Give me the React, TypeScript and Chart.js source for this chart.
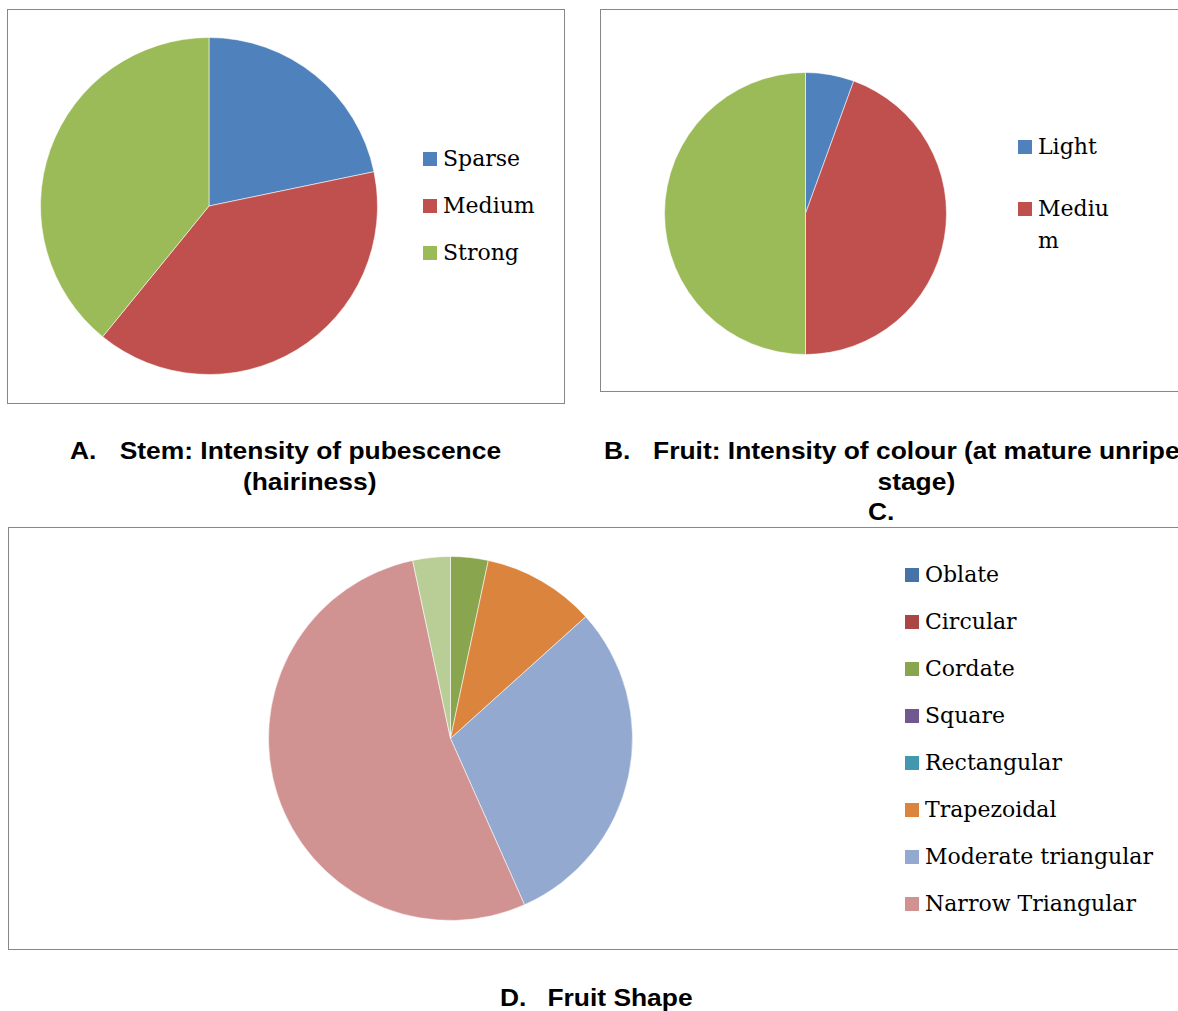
import React, { useEffect, useRef } from "react";
import { Chart, registerables } from "chart.js";

Chart.register(...registerables);

// ---- Data ----
const stemLabels = ["Sparse", "Medium", "Strong"];
const stemValues = [5, 9, 9];
const stemColors = ["#4F81BD", "#C0504D", "#9BBB59"];

const colourLabels = ["Light", "Medium", "Dark"];
const colourValues = [1, 8, 9];
const colourColors = ["#4F81BD", "#C0504D", "#9BBB59"];
const colourLegendShown = 2;

const shapeLabels = [
  "Oblate",
  "Circular",
  "Cordate",
  "Square",
  "Rectangular",
  "Trapezoidal",
  "Moderate triangular",
  "Narrow Triangular",
  "Horn shaped",
];
const shapeValues = [0, 0, 1, 0, 0, 3, 9, 16, 1];
const shapeColors = [
  "#4572A7",
  "#AA4643",
  "#89A54E",
  "#71588F",
  "#4198AF",
  "#DB843D",
  "#93A9CF",
  "#D19392",
  "#B9CD96",
];
const shapeLegendShown = 8;

const titleA = ["Stem: Intensity of pubescence", "(hairiness)"];
const titleB = ["Fruit: Intensity of colour (at mature unripe", "stage)"];
const titleD = ["Fruit Shape"];

const BORDER = "#878787";
const SERIF = "'DejaVu Serif', serif";
const SANS = "'Liberation Sans', Arial, sans-serif";

type PieProps = {
  labels: string[];
  values: number[];
  colors: string[];
  left: number;
  top: number;
  size: number;
};

function PieCanvas({ labels, values, colors, left, top, size }: PieProps) {
  const ref = useRef<HTMLCanvasElement>(null);
  useEffect(() => {
    const chart = new Chart(ref.current as HTMLCanvasElement, {
      type: "pie",
      data: {
        labels,
        datasets: [
          {
            data: values,
            backgroundColor: colors,
            borderColor: "rgba(255,255,255,0.55)",
            borderWidth: 1,
          },
        ],
      },
      options: {
        responsive: false,
        animation: false,
        layout: { padding: 4 },
        plugins: { legend: { display: false }, tooltip: { enabled: false } },
      },
    });
    return () => chart.destroy();
  }, []);
  return (
    <canvas
      ref={ref}
      width={size}
      height={size}
      style={{ position: "absolute", left, top, width: size, height: size }}
    />
  );
}

type LegendProps = {
  labels: string[];
  colors: string[];
  count: number;
  left: number;
  firstY: number;
  step: number;
  labelWidth: number;
};

function Legend({ labels, colors, count, left, firstY, step, labelWidth }: LegendProps) {
  return (
    <>
      {labels.slice(0, count).map((lab, i) => (
        <div
          key={lab}
          style={{
            position: "absolute",
            left,
            top: firstY + i * step - 16,
            height: 32,
          }}
        >
          <div
            style={{
              position: "absolute",
              left: 0,
              top: 9,
              width: 14,
              height: 14,
              background: colors[i],
            }}
          />
          <div
            style={{
              position: "absolute",
              left: 20,
              top: 0,
              width: labelWidth,
              fontFamily: SERIF,
              fontSize: 22,
              lineHeight: "32px",
              color: "#000",
              wordBreak: "break-all",
              whiteSpace: "normal",
            }}
          >
            {lab}
          </div>
        </div>
      ))}
    </>
  );
}

function Box({ left, top, right, bottom }: { left: number; top: number; right: number; bottom: number }) {
  return (
    <div
      style={{
        position: "absolute",
        left,
        top,
        width: right - left + 1,
        height: bottom - top + 1,
        border: `1px solid ${BORDER}`,
        boxSizing: "border-box",
      }}
    />
  );
}

function TitleLine({ text, cx, cy }: { text: string; cx: number; cy: number }) {
  return (
    <div
      style={{
        position: "absolute",
        left: cx - 400,
        width: 800,
        top: cy - 16,
        height: 32,
        lineHeight: "32px",
        textAlign: "center",
        fontFamily: SANS,
        fontWeight: "bold",
        fontSize: 24,
        color: "#000",
        whiteSpace: "nowrap",
      }}
    >
      <span style={{ display: "inline-block", transform: "scaleX(1.1)", transformOrigin: "center" }}>{text}</span>
    </div>
  );
}

function Num({ text, left, cy }: { text: string; left: number; cy: number }) {
  return (
    <div
      style={{
        position: "absolute",
        left,
        top: cy - 16,
        height: 32,
        lineHeight: "32px",
        fontFamily: SANS,
        fontWeight: "bold",
        fontSize: 24,
        color: "#000",
        whiteSpace: "nowrap",
        transform: "scaleX(1.1)",
        transformOrigin: "left",
      }}
    >
      {text}
    </div>
  );
}

export default function App() {
  return (
    <div
      style={{
        position: "absolute",
        left: 0,
        top: 0,
        width: 1178,
        height: 1011,
        overflow: "hidden",
        background: "#fff",
      }}
    >
      {/* A */}
      <Box left={7} top={9} right={564} bottom={403} />
      <PieCanvas labels={stemLabels} values={stemValues} colors={stemColors} left={36} top={33} size={346} />
      <Legend labels={stemLabels} colors={stemColors} count={3} left={423} firstY={159} step={47} labelWidth={130} />

      {/* B */}
      <Box left={600} top={9} right={1300} bottom={391} />
      <PieCanvas labels={colourLabels} values={colourValues} colors={colourColors} left={660} top={68} size={291} />
      <Legend
        labels={colourLabels}
        colors={colourColors}
        count={colourLegendShown}
        left={1018}
        firstY={147}
        step={62}
        labelWidth={76}
      />

      {/* D */}
      <Box left={8} top={527} right={1300} bottom={949} />
      <PieCanvas labels={shapeLabels} values={shapeValues} colors={shapeColors} left={264} top={552} size={373} />
      <Legend
        labels={shapeLabels}
        colors={shapeColors}
        count={shapeLegendShown}
        left={905}
        firstY={575}
        step={47}
        labelWidth={260}
      />

      {/* Titles */}
      <Num text="A." left={70} cy={451} />
      {titleA.map((t, i) => (
        <TitleLine key={t} text={t} cx={310} cy={451 + i * 31} />
      ))}
      <Num text="B." left={604} cy={451} />
      {titleB.map((t, i) => (
        <TitleLine key={t} text={t} cx={916} cy={451 + i * 31} />
      ))}
      <Num text="C." left={868} cy={512} />
      <Num text="D." left={500} cy={998} />
      {titleD.map((t, i) => (
        <TitleLine key={t} text={t} cx={620} cy={998 + i * 31} />
      ))}
    </div>
  );
}
